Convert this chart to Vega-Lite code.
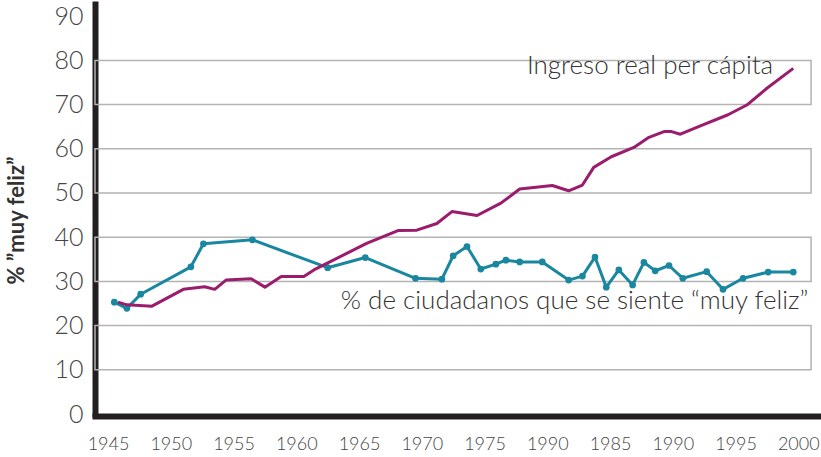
{
  "$schema": "https://vega.github.io/schema/vega-lite/v6.json",
  "width": 725,
  "height": 410,
  "autosize": "none",
  "padding": {"left": 95, "top": 4, "right": 1, "bottom": 43},
  "background": "white",
  "config": {
    "view": {"stroke": null},
    "axis": {"grid": false, "ticks": false, "tickSize": 0, "domainColor": "#231f20", "domainWidth": 6, "domainCap": "square", "labelColor": "#444444", "labelFont": "Lato", "labelFontWeight": 300}
  },
  "datasets": {
    "bands": [{"lo": 10, "hi": 20}, {"lo": 30, "hi": 40}, {"lo": 50, "hi": 60}, {"lo": 70, "hi": 80}],
    "feliz": [
      {"year": 1945.5, "value": 25.3}, {"year": 1946.5, "value": 23.9}, {"year": 1947.6, "value": 27.1},
      {"year": 1951.6, "value": 33.3}, {"year": 1952.6, "value": 38.5}, {"year": 1956.5, "value": 39.4},
      {"year": 1962.5, "value": 33.1}, {"year": 1965.5, "value": 35.4}, {"year": 1969.5, "value": 30.7},
      {"year": 1971.6, "value": 30.5}, {"year": 1972.5, "value": 35.8}, {"year": 1973.6, "value": 37.9},
      {"year": 1974.7, "value": 32.8}, {"year": 1975.9, "value": 33.9}, {"year": 1976.7, "value": 34.8},
      {"year": 1977.8, "value": 34.4}, {"year": 1979.6, "value": 34.4}, {"year": 1981.7, "value": 30.3},
      {"year": 1982.8, "value": 31.2}, {"year": 1983.8, "value": 35.5}, {"year": 1984.7, "value": 28.7},
      {"year": 1985.7, "value": 32.6}, {"year": 1986.8, "value": 29.2}, {"year": 1987.7, "value": 34.3},
      {"year": 1988.6, "value": 32.4}, {"year": 1989.7, "value": 33.6}, {"year": 1990.8, "value": 30.7},
      {"year": 1992.7, "value": 32.2}, {"year": 1994.0, "value": 28.2}, {"year": 1995.6, "value": 30.7},
      {"year": 1997.6, "value": 32.1}, {"year": 1999.6, "value": 32.1}
    ],
    "ingreso": [
      {"year": 1945.8, "value": 25.3}, {"year": 1946.5, "value": 24.7}, {"year": 1948.5, "value": 24.4},
      {"year": 1951.0, "value": 28.2}, {"year": 1952.7, "value": 28.8}, {"year": 1953.5, "value": 28.2},
      {"year": 1954.4, "value": 30.3}, {"year": 1956.4, "value": 30.6}, {"year": 1957.5, "value": 28.7},
      {"year": 1958.8, "value": 31.1}, {"year": 1960.6, "value": 31.1}, {"year": 1961.4, "value": 32.6},
      {"year": 1965.6, "value": 38.6}, {"year": 1968.1, "value": 41.5}, {"year": 1969.6, "value": 41.6},
      {"year": 1971.2, "value": 43.1}, {"year": 1972.4, "value": 45.8}, {"year": 1974.4, "value": 44.9},
      {"year": 1976.3, "value": 47.7}, {"year": 1977.8, "value": 50.9}, {"year": 1980.4, "value": 51.7},
      {"year": 1981.7, "value": 50.5}, {"year": 1982.8, "value": 51.8}, {"year": 1983.7, "value": 55.8},
      {"year": 1985.1, "value": 58.2}, {"year": 1986.9, "value": 60.3}, {"year": 1988.1, "value": 62.6},
      {"year": 1989.3, "value": 63.9}, {"year": 1989.9, "value": 63.9}, {"year": 1990.6, "value": 63.3},
      {"year": 1992.2, "value": 65.2}, {"year": 1994.4, "value": 67.7}, {"year": 1995.9, "value": 69.9},
      {"year": 1997.5, "value": 73.7}, {"year": 1999.6, "value": 78.2}
    ],
    "labels": [
      {"year": 1998.0, "value": 76.9, "text": "Ingreso real per cápita"},
      {"year": 2000.8, "value": 23.8, "text": "% de ciudadanos que se siente “muy feliz”"}
    ]
  },
  "layer": [
    {
      "data": {"name": "bands"},
      "mark": {"type": "rect", "fill": "transparent", "stroke": "#b3b3b3", "strokeWidth": 1.5},
      "encoding": {
        "x": {"datum": 1943.96, "type": "quantitative", "scale": {"domain": [1943.96, 2001.73], "nice": false, "zero": false},
              "axis": {"title": null, "values": [1945, 1950, 1955, 1960, 1965, 1970, 1975, 1980, 1985, 1990, 1995, 2000], "labelExpr": "datum.value == 1980 ? '1990' : datum.label", "format": "d", "offset": 2, "labelFont": "Lato", "labelFontSize": 18, "labelFontWeight": 300, "labelPadding": 19}},
        "x2": {"datum": 2001.02},
        "y": {"field": "lo", "type": "quantitative", "scale": {"domain": [0, 92.76], "nice": false, "zero": false},
              "axis": {"title": "% ”muy feliz”", "values": [0, 10, 20, 30, 40, 50, 60, 70, 80, 90], "labelFontSize": 25, "labelPadding": 12, "titleX": -79, "titleY": 216, "titleAngle": -90, "titleAlign": "center", "titleBaseline": "middle", "titleFont": "Lato", "titleFontSize": 22, "titleFontWeight": "bold", "titleColor": "#333333"}},
        "y2": {"field": "hi"}
      }
    },
    {
      "data": {"name": "feliz"},
      "mark": {"type": "line", "color": "#1a87a0", "strokeWidth": 3, "strokeJoin": "round", "point": {"filled": true, "size": 45, "color": "#1a87a0"}},
      "encoding": {
        "x": {"field": "year", "type": "quantitative"},
        "y": {"field": "value", "type": "quantitative"}
      }
    },
    {
      "data": {"name": "ingreso"},
      "mark": {"type": "line", "color": "#9b1b6d", "strokeWidth": 3, "strokeJoin": "round"},
      "encoding": {
        "x": {"field": "year", "type": "quantitative"},
        "y": {"field": "value", "type": "quantitative"}
      }
    },
    {
      "data": {"name": "labels"},
      "mark": {"type": "text", "align": "right", "baseline": "alphabetic", "font": "Lato", "fontWeight": 300, "fontSize": 26, "color": "#333333"},
      "encoding": {
        "x": {"field": "year", "type": "quantitative"},
        "y": {"field": "value", "type": "quantitative"},
        "text": {"field": "text"}
      }
    }
  ]
}
